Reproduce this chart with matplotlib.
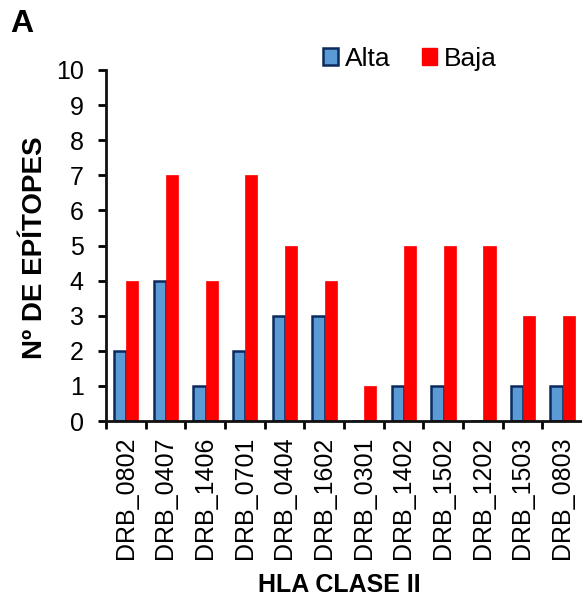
import matplotlib
matplotlib.use("Agg")
import matplotlib.pyplot as plt
import numpy as np
from matplotlib.patches import Patch

plt.rcParams['font.family'] = ['Liberation Sans', 'DejaVu Sans']

alleles = ["DRB_0802", "DRB_0407", "DRB_1406", "DRB_0701", "DRB_0404", "DRB_1602",
           "DRB_0301", "DRB_1402", "DRB_1502", "DRB_1202", "DRB_1503", "DRB_0803"]
alta = [2, 4, 1, 2, 3, 3, 0, 1, 1, 0, 1, 1]
baja = [4, 7, 4, 7, 5, 4, 1, 5, 5, 5, 3, 3]
yticks = list(range(0, 11))

blue_fill = "#5b9bd5"
blue_edge = "#0b2a5e"
red_fill = "#ff0000"

fig = plt.figure(figsize=(5.82, 6.07), dpi=100)
ax = fig.add_axes([0.182, 0.3064, 0.818, 0.5783])

x = np.arange(len(alleles))
w = 0.31
ax.bar(x + 0.2 + w / 2, alta, width=w, color=blue_fill, edgecolor=blue_edge, linewidth=1.8)
ax.bar(x + 0.2 + 1.5 * w, baja, width=w, color=red_fill, edgecolor=red_fill, linewidth=0.5)

ax.set_xlim(0, len(alleles))
ax.set_ylim(0, 10)
ax.set_yticks(yticks)
ax.set_yticklabels([str(v) for v in yticks], fontsize=18)
ax.set_xticks(x + 0.5)
ax.set_xticklabels(alleles, rotation=90, fontsize=18)
ax.set_xticks(np.arange(0, len(alleles)), minor=True)
ax.tick_params(axis='x', which='major', length=0, pad=11)
ax.tick_params(axis='x', which='minor', length=6, width=2, direction='out')
ax.tick_params(axis='y', which='major', length=6, width=2, direction='out', pad=10)

for side in ("top", "right"):
    ax.spines[side].set_visible(False)
for side in ("left", "bottom"):
    ax.spines[side].set_linewidth(2)
    ax.spines[side].set_color("#111111")

ax.set_ylabel("Nº DE EPÍTOPES", fontsize=20, fontweight='bold', va='center')
ax.yaxis.set_label_coords(-0.149, 0.494)
ax.set_xlabel("HLA CLASE II", fontsize=18, fontweight='bold', va='center')
ax.xaxis.set_label_coords(0.49, -0.467)

handles = [Patch(facecolor=blue_fill, edgecolor=blue_edge, linewidth=1.8, label="Alta"),
           Patch(facecolor=red_fill, edgecolor=red_fill, label="Baja")]
fig.legend(handles=handles, loc='center', bbox_to_anchor=(0.704, 0.903), ncol=2,
           frameon=False, fontsize=19, handlelength=0.58, handleheight=0.58,
           handletextpad=0.25, columnspacing=1.2)

fig.text(0.017, 0.960, "A", fontsize=23, fontweight='bold', ha='left', va='center')

fig.savefig("out.png", dpi=100)
